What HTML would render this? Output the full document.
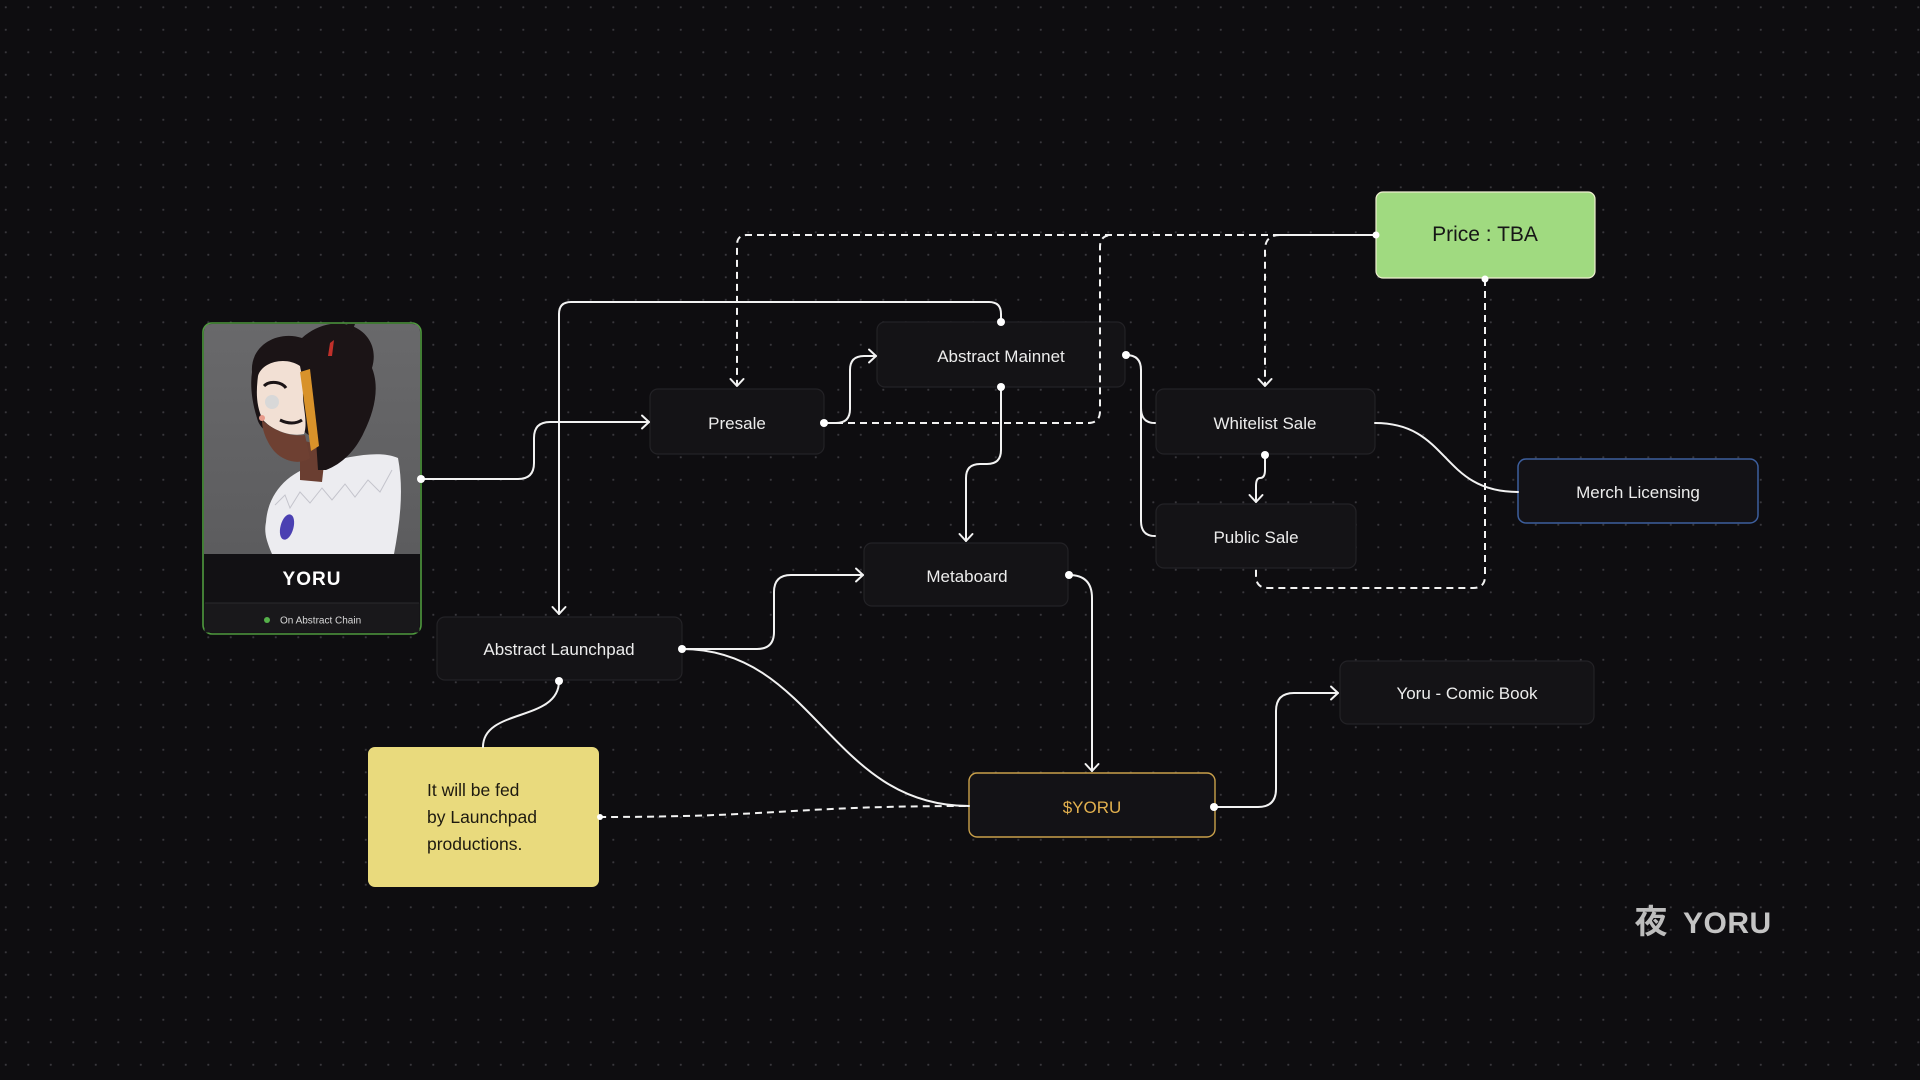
<!DOCTYPE html>
<html>
<head>
<meta charset="utf-8">
<style>
  html, body { margin:0; padding:0; background:#0e0d10; }
  body { width:1920px; height:1080px; overflow:hidden; }
  svg { display:block; }
  .lbl { font-family:"Liberation Sans", sans-serif; font-size:17px; fill:#ececec; text-anchor:middle; }
  .hand { font-family:"Liberation Sans Narrow","Liberation Sans", sans-serif; }
</style>
</head>
<body>
<svg width="1920" height="1080" viewBox="0 0 1920 1080" xmlns="http://www.w3.org/2000/svg">
  <defs>
    <pattern id="grid" patternUnits="userSpaceOnUse" x="4.8" y="6.3" width="22.5" height="22.5">
      <circle cx="1" cy="1" r="1.05" fill="#3a393e"/>
    </pattern>
    <marker id="arr" markerUnits="userSpaceOnUse" markerWidth="20" markerHeight="20" refX="10" refY="10" orient="auto" viewBox="0 0 20 20">
      <path d="M3,3.5 L10,10 L3,16.5" fill="none" stroke="#f2f2f2" stroke-width="2" stroke-linecap="round" stroke-linejoin="round"/>
    </marker>
    <clipPath id="imgclip">
      <path d="M204,332 Q204,324 212,324 L412,324 Q420,324 420,332 L420,554 L204,554 Z"/>
    </clipPath>
    <linearGradient id="imgbg" x1="0" y1="0" x2="0" y2="1">
      <stop offset="0" stop-color="#69696b"/>
      <stop offset="1" stop-color="#5c5c5e"/>
    </linearGradient>
  </defs>

  <rect width="1920" height="1080" fill="#0e0d10"/>
  <rect width="1920" height="1080" fill="url(#grid)"/>

  <!-- ===== Nodes ===== -->
  <g stroke="#232226" stroke-width="1.2" fill="#141316">
    <rect x="650" y="389" width="174" height="65" rx="8"/>
    <rect x="877" y="322" width="248" height="65" rx="8"/>
    <rect x="1156" y="389" width="219" height="65" rx="8"/>
    <rect x="1156" y="504" width="200" height="64" rx="8"/>
    <rect x="864" y="543" width="204" height="63" rx="8"/>
    <rect x="437" y="617" width="245" height="63" rx="8"/>
    <rect x="1340" y="661" width="254" height="63" rx="8"/>
  </g>
  <rect x="1518" y="459" width="240" height="64" rx="8" fill="#131216" stroke="#3d5f9e" stroke-width="1.5"/>
  <rect x="969" y="773" width="246" height="64" rx="8" fill="#131216" stroke="#c9a04a" stroke-width="1.4"/>
  <rect x="1376" y="192" width="219" height="86" rx="7" fill="#a0da80" stroke="#eef0cf" stroke-width="1.2"/>
  <rect x="368" y="747" width="231" height="140" rx="7" fill="#e9da7d"/>

  <!-- ===== Card ===== -->
  <rect x="203" y="323" width="218" height="311" rx="9" fill="#121114" stroke="#4f9a3e" stroke-width="1.6"/>
  <rect x="204.5" y="603" width="215" height="29.5" fill="#19181b"/>
  <line x1="205" y1="603" x2="419" y2="603" stroke="#2b2a2e" stroke-width="1"/>
  <g clip-path="url(#imgclip)">
    <rect x="204" y="324" width="216" height="230" fill="url(#imgbg)"/>
    <!-- coat / fur -->
    <path d="M266,522 C268,492 290,470 320,464 C350,456 380,450 398,458 C404,490 400,522 394,554 L272,554 C266,540 264,532 266,522 Z" fill="#ececf0"/>
    <path d="M275,505 L285,495 L290,508 L300,492 L310,503 L322,488 L332,500 L345,484 L355,497 L368,480 L380,492 L392,470" fill="none" stroke="#c4c4cc" stroke-width="1"/>
    <!-- neck -->
    <path d="M300,440 L326,446 L322,482 L300,480 Z" fill="#6a3e31"/>
    <!-- hair -->
    <path d="M252,372 C250,345 278,330 302,338 C316,325 336,320 352,326 C368,332 378,348 372,368 C380,388 374,412 364,432 C356,450 342,464 326,470 L318,470 L316,440 C300,430 292,418 284,428 C272,438 260,430 257,418 C252,402 250,386 252,372 Z" fill="#1b1416"/>
    <path d="M345,326 L358,316 L352,332 Z" fill="#1b1416"/>
    <!-- mask -->
    <path d="M258,376 C262,362 285,356 300,366 L304,386 C300,400 309,420 304,434 C290,437 272,430 263,420 C256,406 256,392 258,376 Z" fill="#f2e0d4"/>
    <path d="M264,386 C270,380 282,382 286,388" fill="none" stroke="#1b1416" stroke-width="3"/>
    <circle cx="272" cy="402" r="7" fill="#d8d8d8"/>
    <path d="M280,420 C288,424 296,424 302,420" fill="none" stroke="#1b1416" stroke-width="3"/>
    <!-- lower face -->
    <path d="M262,420 C275,432 292,437 305,435 L310,458 C300,465 285,462 275,452 C268,444 262,432 262,420 Z" fill="#6e4032"/>
    <circle cx="262" cy="418" r="3" fill="#e89a8a"/>
    <!-- orange strand -->
    <path d="M300,372 L310,369 L319,446 L311,451 Z" fill="#d8922a"/>
    <path d="M330,343 L334,340 L332,356 L328,356 Z" fill="#c0302a"/>
    <!-- gem -->
    <ellipse cx="287" cy="527" rx="6.5" ry="13" fill="#4b40b2" transform="rotate(15 287 527)"/>
  </g>
  <text x="312" y="585" font-family="Liberation Sans, sans-serif" font-weight="bold" font-size="19" fill="#ffffff" text-anchor="middle" letter-spacing="1">YORU</text>
  <circle cx="267" cy="620" r="3" fill="#55b04a"/>
  <text x="280" y="623.5" font-family="Liberation Sans, sans-serif" font-size="10" fill="#d8d8d8">On Abstract Chain</text>

  <!-- ===== Connectors (solid) ===== -->
  <g fill="none" stroke="#f2f2f2" stroke-width="2" stroke-linecap="round" stroke-linejoin="round">
    <path d="M421,479 L518,479 Q534,479 534,463 L534,438 Q534,422 550,422 L649,422" marker-end="url(#arr)"/>
    <path d="M1001,322 L1001,314 Q1001,302 989,302 L571,302 Q559,302 559,314 L559,614" marker-end="url(#arr)"/>
    <path d="M824,423 L836,423 Q850,423 850,409 L850,370 Q850,356 864,356 L876,356" marker-end="url(#arr)"/>
    <path d="M1001,387 L1001,450 Q1001,464 987,464 L980,464 Q966,464 966,478 L966,541" marker-end="url(#arr)"/>
    <path d="M1126,355 Q1141,355 1141,370 L1141,521 Q1141,536 1155,536"/>
    <path d="M1141,408 Q1141,423 1155,423"/>
    <path d="M1375,423 C1450,423 1440,492 1518,492"/>
    <path d="M1265,455 L1265,470 Q1265,478 1260,478 Q1256,478 1256,486 L1256,502" marker-end="url(#arr)"/>
    <path d="M1069,575 Q1092,575 1092,598 L1092,771" marker-end="url(#arr)"/>
    <path d="M682,649 L757,649 Q774,649 774,632 L774,592 Q774,575 791,575 L863,575" marker-end="url(#arr)"/>
    <path d="M682,649 C815,649 830,806 969,806"/>
    <path d="M559,681 C559,722 483,708 483,747"/>
    <path d="M1214,807 L1258,807 Q1276,807 1276,789 L1276,711 Q1276,693 1294,693 L1338,693" marker-end="url(#arr)"/>
    <path d="M1376,235 L1280,235"/>
  </g>

  <!-- ===== Connectors (dashed) ===== -->
  <g fill="none" stroke="#f2f2f2" stroke-width="2" stroke-dasharray="7 5">
    <path d="M1280,235 L747,235 Q737,235 737,245 L737,386" marker-end="url(#arr)"/>
    <path d="M1280,235 Q1265,235 1265,250 L1265,386" marker-end="url(#arr)"/>
    <path d="M824,423 L1088,423 Q1100,423 1100,411 L1100,247 Q1100,235 1112,235"/>
    <path d="M1485,279 L1485,576 Q1485,588 1473,588 L1268,588 Q1256,588 1256,576 L1256,569"/>
    <path d="M599,817 C780,817 790,806 969,806"/>
  </g>

  <!-- ===== Dots ===== -->
  <g fill="#ffffff">
    <circle cx="421" cy="479" r="4"/>
    <circle cx="824" cy="423" r="4"/>
    <circle cx="1001" cy="322" r="4"/>
    <circle cx="1001" cy="387" r="4"/>
    <circle cx="1126" cy="355" r="4"/>
    <circle cx="1265" cy="455" r="4"/>
    <circle cx="1069" cy="575" r="4"/>
    <circle cx="682" cy="649" r="4"/>
    <circle cx="559" cy="681" r="4"/>
    <circle cx="1214" cy="807" r="4"/>
    <circle cx="1376" cy="235" r="3.5"/>
    <circle cx="1485" cy="279" r="3.5"/>
    <circle cx="600" cy="817" r="3"/>
  </g>

  <!-- ===== Labels ===== -->
  <text class="lbl" x="737" y="429">Presale</text>
  <text class="lbl" x="1001" y="362">Abstract Mainnet</text>
  <text class="lbl" x="1265" y="429">Whitelist Sale</text>
  <text class="lbl" x="1256" y="543">Public Sale</text>
  <text class="lbl" x="1638" y="498">Merch Licensing</text>
  <text class="lbl" x="967" y="582">Metaboard</text>
  <text class="lbl" x="559" y="655">Abstract Launchpad</text>
  <text class="lbl" x="1467" y="699">Yoru - Comic Book</text>
  <text class="lbl" x="1092" y="813" style="fill:#e2b04e">$YORU</text>
  <text class="hand" x="1485" y="241" font-size="21" fill="#161616" text-anchor="middle">Price : TBA</text>
  <g class="hand" font-size="17.5" fill="#1e1a10">
    <text x="427" y="796">It will be fed</text>
    <text x="427" y="823">by Launchpad</text>
    <text x="427" y="850">productions.</text>
  </g>

  <!-- ===== Logo ===== -->
  <text x="1651" y="933" font-family="Noto Sans CJK JP, sans-serif" font-weight="bold" font-size="33" fill="#bdbdbd" text-anchor="middle">夜</text>
  <text x="1683" y="933" font-family="Liberation Sans, sans-serif" font-weight="bold" font-size="30" fill="#c4c4c4" letter-spacing="0.5">YORU</text>
</svg>
</body>
</html>
